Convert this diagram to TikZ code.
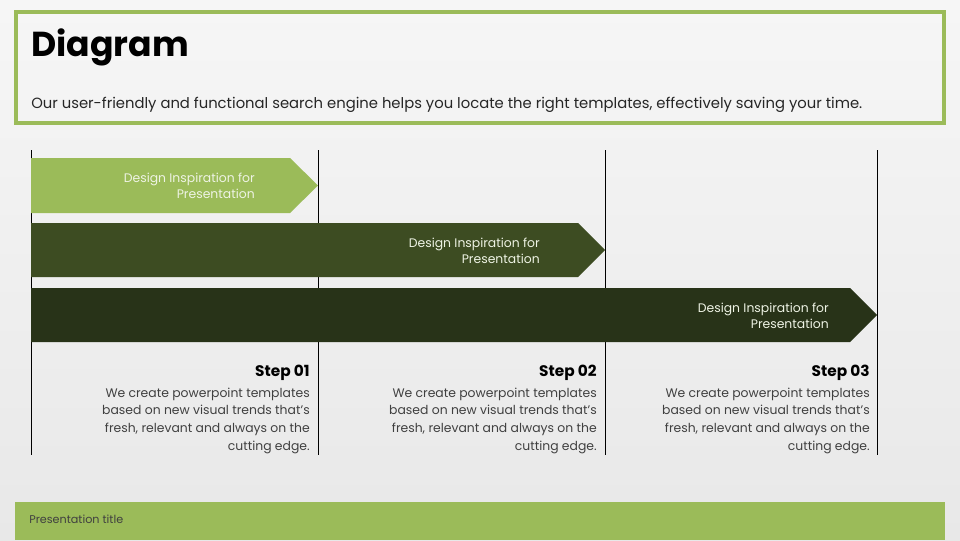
\documentclass[tikz,border=0pt]{standalone}
\usepackage{fontspec}
\setmainfont{Poppins}
\definecolor{lgreen}{HTML}{9BBB59}
\definecolor{mgreen}{HTML}{3D4C22}
\definecolor{dgreen}{HTML}{283318}
\definecolor{bodygray}{HTML}{404040}
\definecolor{arrowtext}{HTML}{EEF3E4}
\tikzset{
  vline/.style={line width=0.75pt, black},
  arrowlabel/.style={anchor=east, align=right, text=arrowtext, font=\fontsize{9.3pt}{12pt}\selectfont, inner sep=0pt},
  stephead/.style={anchor=base east, font=\bfseries\fontsize{11.5pt}{13pt}\selectfont, inner sep=0pt, text=black},
  stepbody/.style={anchor=north east, align=right, text=bodygray, font=\fontsize{9.3pt}{13.3pt}\selectfont, inner sep=0pt},
}
\begin{document}
\begin{tikzpicture}[x=0.75pt,y=-0.75pt]
\useasboundingbox (0,0) rectangle (960,540);
\shade[top color=white!93!gray, bottom color=white!82!gray] (0,540) rectangle (960,0);
% header box
\draw[lgreen, line width=2.4pt] (16,12) rectangle (944,123);
\node[anchor=base west, inner sep=0pt, font=\bfseries\fontsize{26pt}{30pt}\selectfont] (title) at (31,56) {Diagram};
\node[anchor=base west, inner sep=0pt, font=\fontsize{11.1pt}{12pt}\selectfont, text=black!85] (subtitle) at (31,108) {Our user-friendly and functional search engine helps you locate the right templates, effectively saving your time.};
% vertical lines
\coordinate (v0t) at (31,150); \coordinate (v0b) at (31,455);
\coordinate (v1t) at (318,150); \coordinate (v1b) at (318,455);
\coordinate (v2t) at (605,150); \coordinate (v2b) at (605,455);
\coordinate (v3t) at (877,150); \coordinate (v3b) at (877,455);
\draw[vline] (v0t) -- (v0b);
\draw[vline] (v1t) -- (v1b);
\draw[vline] (v2t) -- (v2b);
\draw[vline] (v3t) -- (v3b);
% arrows
\fill[lgreen] (31,158) -- (290,158) -- (318,185.5) -- (290,213) -- (31,213) -- cycle;
\fill[mgreen] (31,223) -- (578,223) -- (605,250) -- (578,277) -- (31,277) -- cycle;
\fill[dgreen] (31,288) -- (850,288) -- (877,315) -- (850,342) -- (31,342) -- cycle;
\node[arrowlabel] (a1) at (255,186) {Design Inspiration for\\Presentation};
\node[arrowlabel] (a2) at (540,251) {Design Inspiration for\\Presentation};
\node[arrowlabel] (a3) at (829,315.5) {Design Inspiration for\\Presentation};
% steps
\node[stephead] (s1) at (310,376) {Step 01};
\node[stephead] (s2) at (597,376) {Step 02};
\node[stephead] (s3) at (870,376) {Step 03};
\node[stepbody] (b1) at (310,387.5) {We create powerpoint templates\\based on new visual trends that’s\\fresh, relevant and always on the\\cutting edge.};
\node[stepbody] (b2) at (597,387.5) {We create powerpoint templates\\based on new visual trends that’s\\fresh, relevant and always on the\\cutting edge.};
\node[stepbody] (b3) at (870,387.5) {We create powerpoint templates\\based on new visual trends that’s\\fresh, relevant and always on the\\cutting edge.};
% footer
\fill[lgreen] (15,502) rectangle (945,540);
\node[anchor=west, inner sep=0pt, font=\fontsize{8.4pt}{9pt}\selectfont, text=black!75] (foot) at (29,519) {Presentation title};
\end{tikzpicture}
\end{document}
